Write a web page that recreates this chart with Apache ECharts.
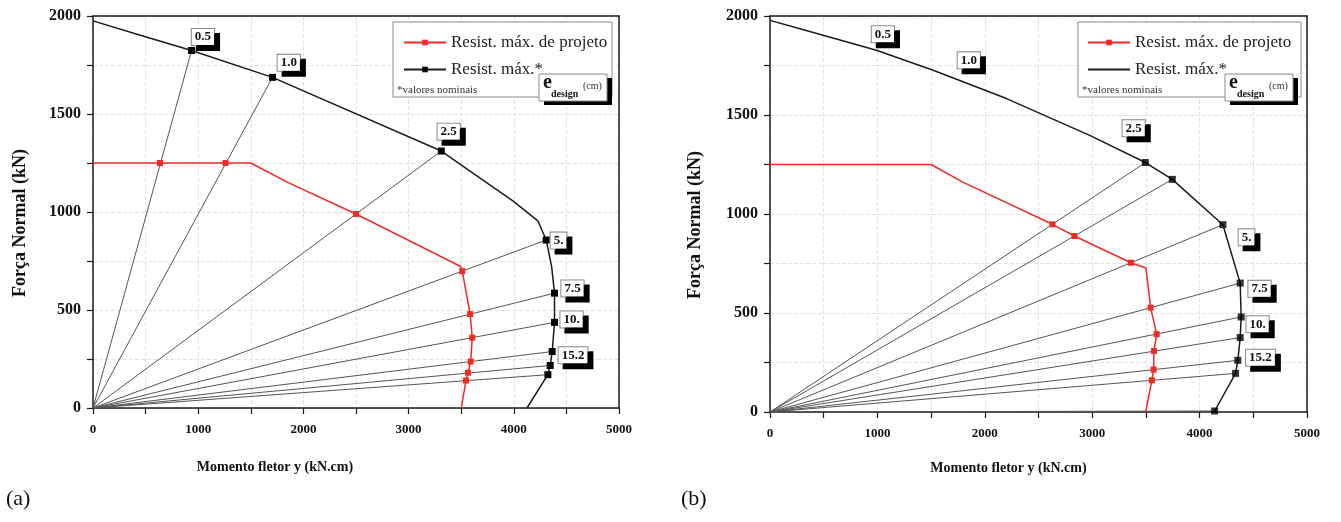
<!DOCTYPE html>
<html>
<head>
<meta charset="utf-8">
<script src="https://cdn.jsdelivr.net/npm/echarts@6.0.0/dist/echarts.min.js"></script>
<style>
  html, body { margin: 0; padding: 0; background: #fff; }
  #chart { width: 1341px; height: 522px; }
</style>
</head>
<body>
<div id="chart"></div>
<script>
// ---- data (M in kN.cm, N in kN) ----
// (a) nominal capacity envelope
var envA = [[0, 1975], [450, 1902], [937, 1824], [1706, 1687], [3311, 1311], [3700, 1165], [3991, 1057],
    [4229, 955], [4308, 857], [4360, 720], [4387, 586], [4387, 437], [4365, 288], [4346, 217], [4324, 170], [4125, 0]];
// indices of envA points reached by an eccentricity line
var envAEnds = [2, 3, 4, 8, 10, 11, 12, 13, 14];
// (a) design resistance
var designA = [[0, 1250], [636, 1250], [1260, 1250], [1500, 1250], [1855, 1150], [2500, 990], [3495, 722],
    [3510, 698], [3585, 479], [3605, 359], [3590, 237], [3565, 180], [3545, 140], [3501, 0]];
var designAMarks = [1, 2, 5, 7, 8, 9, 10, 11, 12];

// (b) nominal capacity envelope
var envB = [[0, 1978], [279, 1936], [991, 1827], [1519, 1726], [2202, 1583], [2977, 1397], [3495, 1260],
    [3746, 1175], [4217, 946], [4378, 651], [4387, 480], [4378, 376], [4356, 261], [4335, 195], [4140, 5]];
var envBEnds = [6, 7, 8, 9, 10, 11, 12, 13, 14];
// (b) design resistance
var designB = [[0, 1250], [1500, 1250], [1800, 1160], [2630, 948], [2834, 889], [3361, 754], [3500, 727],
    [3544, 527], [3600, 393], [3575, 308], [3572, 214], [3556, 160], [3498, 0]];
var designBMarks = [3, 4, 5, 7, 8, 9, 10, 11];

// e_design labels (cm)
var eLabels = ['0.5', '1.0', '2.5', '5.', '7.5', '10.', '15.2'];

var xTicks = [0, 1000, 2000, 3000, 4000, 5000];
var yTicks = [0, 500, 1000, 1500, 2000];

// ---- layout / style ----
var SERIF = '"Liberation Serif", "DejaVu Serif", serif';
var RED = '#ee2b24';
var DARK = '#1b1b1b';
// where the label boxes sit (data coords)
var labelSpotA = [[1045, 1893], [1861, 1761], [3381, 1410], [4425, 854], [4558, 610], [4549, 452], [4563, 269]];
var labelSpotB = [[1051, 1908], [1851, 1776], [3386, 1433], [4437, 882], [4558, 622], [4540, 443], [4567, 274]];

var chart = echarts.init(document.getElementById('chart'));

function xAxisCfg(idx, namePad, gap) {
    return {
        gridIndex: idx, type: 'value', min: 0, max: 5000, interval: 500,
        axisLine: {show: true, onZero: false, lineStyle: {color: DARK, width: 1.5}},
        axisTick: {show: true, length: 6, lineStyle: {color: DARK, width: 1.2}},
        axisLabel: {
            margin: 15, color: '#111', fontFamily: SERIF, fontWeight: 'bold', fontSize: 13,
            formatter: function (v) { return xTicks.indexOf(v) >= 0 ? String(v) : ''; }
        },
        splitLine: {show: true, lineStyle: {color: '#e2e2e2', type: 'dashed'}},
        name: 'Momento fletor y (kN.cm)', nameLocation: 'middle', nameGap: gap,
        nameTextStyle: {fontFamily: SERIF, fontWeight: 'bold', fontSize: 14, color: '#111', padding: [0, namePad, 0, 0]}
    };
}

function yAxisCfg(idx, gap) {
    return {
        gridIndex: idx, type: 'value', min: 0, max: 2000, interval: 250,
        axisLine: {show: true, onZero: false, lineStyle: {color: DARK, width: 1.5}},
        axisTick: {show: true, length: 6, lineStyle: {color: DARK, width: 1.2}},
        axisLabel: {
            margin: 12, color: '#111', fontFamily: SERIF, fontWeight: 'bold', fontSize: 16,
            formatter: function (v) { return yTicks.indexOf(v) >= 0 ? String(v) : ''; }
        },
        splitLine: {show: true, lineStyle: {color: '#e2e2e2', type: 'dashed'}},
        name: 'Força Normal (kN)', nameLocation: 'middle', nameGap: gap,
        nameTextStyle: {fontFamily: SERIF, fontWeight: 'bold', fontSize: 18, color: '#111', padding: [0, 22, 0, 0]}
    };
}

// plain frame edges (top / right)
function frameAxis(idx, pos, isX) {
    var a = {
        gridIndex: idx, type: 'value', position: pos, min: 0, max: isX ? 5000 : 2000,
        axisLine: {show: true, onZero: false, lineStyle: {color: DARK, width: 1.5}},
        axisTick: {show: false}, axisLabel: {show: false}, splitLine: {show: false}
    };
    return a;
}

var boxLabel = {
    show: true, position: 'inside', color: '#111', fontFamily: SERIF, fontWeight: 'bold', fontSize: 13,
    backgroundColor: '#fff', borderColor: '#888', borderWidth: 1, padding: [2, 3, 1, 3],
    shadowColor: '#000', shadowBlur: 0, shadowOffsetX: 5, shadowOffsetY: 5
};

function buildSeries(idx, env, ends, design, marks, spots, plainEnvelope) {
    var out = [];
    // eccentricity lines from the origin
    ends.forEach(function (k) {
        out.push({
            type: 'line', xAxisIndex: idx, yAxisIndex: idx, silent: true, symbol: 'none', z: 1,
            lineStyle: {color: '#555', width: 1}, data: [[0, 0], env[k]]
        });
    });
    var envName = idx === 0 ? 'envA' : 'envB';
    out.push({
        name: envName, type: 'line', xAxisIndex: idx, yAxisIndex: idx, z: 3,
        symbol: plainEnvelope ? 'none' : 'rect', symbolSize: 7,
        lineStyle: {color: DARK, width: 1.5}, itemStyle: {color: '#000'},
        data: env.map(function (p, i) {
            return (!plainEnvelope && ends.indexOf(i) >= 0) ? p : {value: p, symbol: 'none'};
        }),
        markPoint: {
            symbol: 'rect', symbolSize: 1, itemStyle: {color: 'rgba(0,0,0,0)'}, z: 10,
            label: boxLabel,
            data: spots.map(function (c, i) {
                return {coord: c, label: {formatter: eLabels[i]}};
            })
        }
    });
    if (plainEnvelope) {
        out.push({
            type: 'scatter', xAxisIndex: idx, yAxisIndex: idx, z: 5, symbol: 'rect', symbolSize: 7,
            itemStyle: {color: '#000'}, data: ends.map(function (k) { return env[k]; })
        });
    }
    out.push({
        name: idx === 0 ? 'projA' : 'projB', type: 'line', xAxisIndex: idx, yAxisIndex: idx, z: 4,
        symbol: 'rect', symbolSize: 6,
        lineStyle: {color: RED, width: 1.5}, itemStyle: {color: RED},
        data: design.map(function (p, i) {
            return marks.indexOf(i) >= 0 ? p : {value: p, symbol: 'none'};
        })
    });
    return out;
}

var legendNames = {
    projA: 'Resist. máx. de projeto', projB: 'Resist. máx. de projeto',
    envA: 'Resist. máx.*', envB: 'Resist. máx.*'
};

function legendCfg(left, names) {
    return {
        left: left, top: 29, orient: 'vertical', itemWidth: 42, itemHeight: 7, itemGap: 10,
        selectedMode: false, z: 6, data: names,
        textStyle: {fontFamily: SERIF, fontSize: 17, color: '#222', lineHeight: 17},
        formatter: function (n) { return legendNames[n]; }
    };
}

function legendBox(x, w, ex) {
    return [
        {type: 'rect', z: 3, shape: {x: x, y: 22, width: w, height: 75},
            style: {fill: '#fff', stroke: '#888', lineWidth: 1}},
        {type: 'text', z: 7, x: x + 4, y: 85,
            style: {text: '*valores nominais', font: '11px ' + SERIF, fill: '#333'}},
        {type: 'rect', z: 7, shape: {x: ex + 5, y: 78, width: 68, height: 27}, style: {fill: '#000'}},
        {type: 'rect', z: 8, shape: {x: ex, y: 74, width: 68, height: 27},
            style: {fill: '#fff', stroke: '#888', lineWidth: 1}},
        {type: 'text', z: 9, x: ex + 4, y: 73,
            style: {text: 'e', font: 'bold 20px ' + SERIF, fill: '#111'}},
        {type: 'text', z: 9, x: ex + 12, y: 89,
            style: {text: 'design', font: 'bold 10px ' + SERIF, fill: '#111'}},
        {type: 'text', z: 9, x: ex + 44, y: 81,
            style: {text: '(cm)', font: '10px ' + SERIF, fill: '#333'}}
    ];
}

var option = {
    backgroundColor: '#fff',
    animation: false,
    grid: [
        {left: 93, right: 722, top: 16, bottom: 114},
        {left: 770, right: 34, top: 16, bottom: 110}
    ],
    xAxis: [xAxisCfg(0, 162, 52), xAxisCfg(1, 60, 49), frameAxis(0, 'top', true), frameAxis(1, 'top', true)],
    yAxis: [yAxisCfg(0, 64), yAxisCfg(1, 66), frameAxis(0, 'right', false), frameAxis(1, 'right', false)],
    legend: [
        legendCfg(398, ['projA', 'envA']),
        legendCfg(1082, ['projB', {name: 'envB', itemStyle: {opacity: 0}}])
    ],
    graphic: legendBox(393, 219, 539).concat(legendBox(1078, 223, 1225)).concat([
        {type: 'text', x: 6, y: 488, style: {text: '(a)', font: '22px ' + SERIF, fill: '#111'}},
        {type: 'text', x: 681, y: 488, style: {text: '(b)', font: '22px ' + SERIF, fill: '#111'}}
    ]),
    series: buildSeries(0, envA, envAEnds, designA, designAMarks, labelSpotA, false)
        .concat(buildSeries(1, envB, envBEnds, designB, designBMarks, labelSpotB, true))
};

chart.setOption(option);
</script>
</body>
</html>
